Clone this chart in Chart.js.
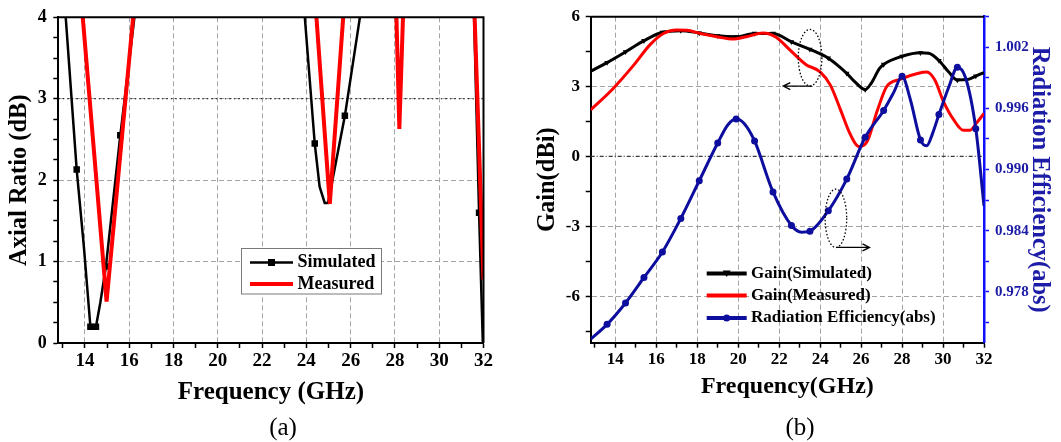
<!DOCTYPE html>
<html>
<head>
<meta charset="utf-8">
<title>Axial ratio and gain vs frequency</title>
<script src="https://cdn.jsdelivr.net/npm/chart.js@4.4.1/dist/chart.umd.min.js"></script>
<style>
  html, body { margin: 0; padding: 0; background: #fff; }
  #page { position: relative; width: 1061px; height: 442px; overflow: hidden; }
  #chartA { position: absolute; left: 0; top: 0; }
  #chartB { position: absolute; left: 530px; top: 0; }
  .cap { position: absolute; top: 413px; width: 80px; margin-left: -40px; text-align: center;
         font: 25px/28px "Liberation Serif", "Times New Roman", serif; color: #000; }
</style>
</head>
<body>
<div id="page">
  <canvas id="chartA" width="530" height="442"></canvas>
  <canvas id="chartB" width="531" height="442"></canvas>
  <div class="cap" style="left:283px">(a)</div>
  <div class="cap" style="left:800px">(b)</div>
</div>
<script>
const SERIF = '"Liberation Serif", "Times New Roman", serif';

// shared frequency axis (GHz)
const freqTicks = [13, 14, 15, 16, 17, 18, 19, 20, 21, 22, 23, 24, 25, 26, 27, 28, 29, 30, 31, 32];
const freqGrid = [14, 16, 18, 20, 22, 24, 26, 28, 30];

// (a) axial ratio in dB -- anything above 4 runs off the top of the frame
const arTicks = [0, 0.25, 0.5, 0.75, 1, 1.25, 1.5, 1.75, 2, 2.25, 2.5, 2.75, 3, 3.25, 3.5, 3.75, 4];
const arGrid = [1, 2, 3];
const arSimFreq = [12.95, 13.63, 13.95, 14.1, 14.25, 14.5, 14.7, 14.95, 15.6, 16.5, 17.5, 23.2, 23.7, 24.38, 24.6, 24.83, 24.98, 25.74, 26.7, 27.2, 31.2, 31.5, 31.8, 31.97];
const arSim =     [4.7,   2.13,  1.2,   0.7,  0.2,   0.2,  0.5,  0.94,  2.55, 4.6,  8,    8,    4.8,  2.45,  1.92, 1.72,  1.72,  2.79,  4.5,  8,    8,    4.8,  1.6,  0];
const arSimMarks = [13.63, 14.25, 14.5, 14.95, 15.6, 24.38, 25.74, 31.8];
const arMeasFreq = [13.75, 14.98, 16.35, 17, 24, 24.35, 25.06, 25.77, 26.3, 27.8, 28.05, 28.2, 28.4, 28.6, 31.3, 31.55, 32.0];
const arMeas =     [4.5,   0.51,  4.5,   8,  8,  4.4,   1.71,  4.4,   8,    8,    4.2,   2.63, 4.3,  8,    8,    4.4,   0.78];

// (b) gain in dBi (left) and radiation efficiency (right)
const gainTicks = [-7.5, -6, -4.5, -3, -1.5, 0, 1.5, 3, 4.5, 6];
const gainLabels = [-6, -3, 0, 3, 6];
const gainGrid = [-6, -3, 3];
const effTicks = [0.975, 0.978, 0.981, 0.984, 0.987, 0.990, 0.993, 0.996, 0.999, 1.002, 1.005];
const effLabels = [0.978, 0.984, 0.990, 0.996, 1.002];

const gainSimFreq = [12.8, 13.6, 14.5, 15.4, 16.3, 17.2, 18.1, 19.0, 19.9, 20.8, 21.7, 22.6, 23.5, 24.4, 25.3, 25.7, 26.2, 26.5, 26.9, 27.1, 28.0, 28.9, 29.3, 29.8, 30.3, 30.7, 31.2, 31.6, 32.0];
const gainSim =     [3.66, 4.03, 4.49, 4.97, 5.33, 5.40, 5.30, 5.18, 5.14, 5.28, 5.28, 4.92, 4.60, 4.22, 3.57, 3.2,  2.87, 3.15, 3.78, 3.95, 4.30, 4.45, 4.43, 4.12, 3.6,  3.28, 3.30, 3.45, 3.60];
const gainMeasFreq = [12.8, 13.9, 14.9, 15.7, 16.35, 17.0, 17.5, 18.15, 19.1, 19.7, 20.4, 21.2, 21.85, 22.55, 23.3, 24.0, 24.5, 25.0, 25.45, 25.9, 26.3, 26.8, 27.25, 27.9, 28.8, 29.2, 29.6, 30.0, 30.5, 31.0, 31.3, 31.65, 32.0];
const gainMeas =     [2.0,  2.92, 3.92, 4.8,  5.28,  5.43, 5.42, 5.28,  5.12, 5.04, 5.14, 5.30, 5.12,  4.55,  3.95, 3.63, 3.06, 1.99, 0.99,  0.42, 0.65, 1.99, 3.0,   3.31, 3.57, 3.62, 3.28, 2.4,  1.6,  1.12, 1.12, 1.45,  1.85];
const effFreq = [12.8, 13.6, 14.5, 15.4, 16.3, 17.2, 18.1, 19.0, 19.5, 19.9, 20.3, 20.8, 21.7, 22.6, 23.1, 23.5, 24.4, 25.3, 26.2, 27.1, 27.6, 28.0, 28.4, 28.9, 29.2, 29.5, 29.8, 30.3, 30.7, 31.1, 31.6, 32.0];
const eff =     [0.97335, 0.9748, 0.9769, 0.9794, 0.9819, 0.9852, 0.9889, 0.9926, 0.9944, 0.99496, 0.9945, 0.9928, 0.9878, 0.9845, 0.98385, 0.98395, 0.98595, 0.98906, 0.99316, 0.9958, 0.9976, 0.99915, 0.9969, 0.9929, 0.99233, 0.9936, 0.9954, 0.9982, 1.00005, 0.9990, 0.9940, 0.98644];
const bMarks = [13.6, 14.5, 15.4, 16.3, 17.2, 18.1, 19.0, 19.9, 20.8, 21.7, 22.6, 23.5, 24.4, 25.3, 26.2, 27.1, 28.0, 28.9, 29.8, 30.7, 31.6];

const BLUE = '#0d0d9e';
const AXIS_BLUE = '#1010ff';
const TEXT_BLUE = '#1c1ca6';
const GRID = '#a3a3a3';

const $ = (id) => document.getElementById(id);
const pts = (xs, ys) => xs.map((x, i) => ({ x, y: ys[i] }));
const setTicks = (vals) => (s) => { s.ticks = vals.map((v) => ({ value: v })); };
const gridAt = (vals) => (c) => (c.tick && vals.includes(c.tick.value) ? GRID : 'rgba(0,0,0,0)');
const mark = (list, r) => (c) => (c.raw && list.includes(c.raw.x) ? r : 0);

Chart.defaults.font.family = SERIF;
Chart.defaults.color = '#000';

function freqAxis(text, size, titleSize, height) {
  return {
    type: 'linear', min: 12.8, max: 32,
    afterBuildTicks: setTicks(freqTicks),
    afterFit: (s) => { s.height = height; },
    ticks: { autoSkip: false, maxRotation: 0, padding: 2, font: { size, weight: 'bold' },
             callback: (v) => (v % 2 === 0 ? v : '') },
    grid: { color: gridAt(freqGrid), lineWidth: 1, tickLength: 5, tickColor: '#000', tickWidth: 1.5 },
    border: { color: '#000', width: 2, dash: [5, 3] },
    title: { display: true, text, font: { size: titleSize, weight: 'bold' }, padding: 0 },
  };
}

function hline(chart, scale, value, color, dash) {
  const { ctx, chartArea } = chart;
  const py = chart.scales[scale].getPixelForValue(value);
  ctx.save();
  ctx.strokeStyle = color;
  ctx.lineWidth = 1.2;
  ctx.setLineDash(dash);
  ctx.beginPath();
  ctx.moveTo(chartArea.left, py);
  ctx.lineTo(chartArea.right, py);
  ctx.stroke();
  ctx.restore();
}

function marker(ctx, kind, x, y, color) {
  ctx.fillStyle = color;
  ctx.beginPath();
  if (kind === 'rect') ctx.rect(x - 3.5, y - 3.5, 7, 7);
  if (kind === 'down') { ctx.moveTo(x - 4, y - 3); ctx.lineTo(x + 4, y - 3); ctx.lineTo(x, y + 3.5); ctx.closePath(); }
  if (kind === 'dot') ctx.arc(x, y, 3.5, 0, Math.PI * 2);
  ctx.fill();
}

function legendRows(ctx, rows, x0, x1, tx, size) {
  ctx.font = `bold ${size}px ${SERIF}`;
  ctx.textBaseline = 'middle';
  ctx.textAlign = 'left';
  for (const r of rows) {
    ctx.strokeStyle = r.color;
    ctx.lineWidth = r.width;
    ctx.beginPath();
    ctx.moveTo(x0, r.y);
    ctx.lineTo(x1, r.y);
    ctx.stroke();
    if (r.marker) marker(ctx, r.marker, (x0 + x1) / 2, r.y, r.color);
    ctx.fillStyle = '#000';
    ctx.fillText(r.label, tx, r.y);
  }
}

// ---------- (a) axial ratio ----------
const extrasA = {
  id: 'extrasA',
  beforeDatasetsDraw(chart) {
    hline(chart, 'y', 3, '#000', [1.5, 3]);
  },
  afterDatasetsDraw(chart) {
    const { ctx, chartArea: a } = chart;
    ctx.save();
    ctx.strokeStyle = '#000';
    ctx.lineWidth = 2;
    ctx.beginPath();
    ctx.moveTo(a.left, a.top);
    ctx.lineTo(a.right, a.top);
    ctx.lineTo(a.right, a.bottom);
    ctx.stroke();
    // legend box
    ctx.fillStyle = '#fff';
    ctx.fillRect(241, 248.5, 141, 45.5);
    ctx.strokeStyle = '#7a7a7a';
    ctx.lineWidth = 1;
    ctx.strokeRect(241.5, 248.5, 140, 45.5);
    legendRows(ctx, [
      { label: 'Simulated', color: '#000', width: 2.5, marker: 'rect', y: 262.5 },
      { label: 'Measured', color: '#ff0000', width: 4, y: 284 },
    ], 250, 293, 297.5, 18);
    ctx.restore();
  },
};

new Chart($('chartA'), {
  type: 'line',
  data: {
    datasets: [
      { label: 'Measured', data: pts(arMeasFreq, arMeas), borderColor: '#ff0000', borderWidth: 4,
        pointRadius: 0, tension: 0, clip: 0, order: 0 },
      { label: 'Simulated', data: pts(arSimFreq, arSim), borderColor: '#000', borderWidth: 2.5,
        pointStyle: 'rect', pointRadius: mark(arSimMarks, 4.6), pointBackgroundColor: '#000',
        pointBorderColor: '#000', pointBorderWidth: 0, tension: 0, clip: 0, order: 1 },
    ],
  },
  options: {
    responsive: false, animation: false, events: [],
    layout: { padding: { left: 0, top: 17, right: 46.5, bottom: 34 } },
    plugins: { legend: { display: false }, tooltip: { enabled: false } },
    scales: {
      x: freqAxis('Frequency (GHz)', 19, 25, 65),
      y: {
        type: 'linear', min: 0, max: 4,
        afterBuildTicks: setTicks(arTicks),
        afterFit: (s) => { s.width = 58.3; },
        ticks: { autoSkip: false, padding: 6.5, font: { size: 18, weight: 'bold' },
                 callback: (v) => (Number.isInteger(v) ? v : '') },
        grid: { color: gridAt(arGrid), lineWidth: 1, tickLength: 5, tickColor: '#000', tickWidth: 1.5 },
        border: { color: '#000', width: 2, dash: [5, 3] },
        title: { display: true, text: 'Axial Ratio (dB)', font: { size: 24.5, weight: 'bold' },
                 padding: { top: 5.3, bottom: 0 } },
      },
    },
  },
  plugins: [extrasA],
});

// ---------- (b) gain and radiation efficiency ----------
function ellipse(ctx, cx, cy, rx, ry) {
  ctx.beginPath();
  ctx.ellipse(cx, cy, rx, ry, 0, 0, Math.PI * 2);
  ctx.stroke();
}

function arrow(ctx, x0, x1, y) {
  const dir = Math.sign(x1 - x0);
  ctx.beginPath();
  ctx.moveTo(x0, y);
  ctx.lineTo(x1, y);
  ctx.moveTo(x1 - dir * 7, y - 3.5);
  ctx.lineTo(x1, y);
  ctx.lineTo(x1 - dir * 7, y + 3.5);
  ctx.stroke();
}

const extrasB = {
  id: 'extrasB',
  beforeDatasetsDraw(chart) {
    hline(chart, 'y', 0, '#3a3a3a', [4, 2, 1, 2]);
  },
  afterDatasetsDraw(chart) {
    const { ctx, chartArea: a, scales: { x, y, y2 } } = chart;
    ctx.save();
    ctx.strokeStyle = '#000';
    ctx.lineWidth = 2;
    ctx.beginPath();
    ctx.moveTo(a.left, a.top);
    ctx.lineTo(a.right, a.top);
    ctx.stroke();

    // dotted ellipses with arrows pointing at the matching axis
    ctx.lineWidth = 1.3;
    ctx.setLineDash([1.5, 2]);
    ellipse(ctx, x.getPixelForValue(23.51), y.getPixelForValue(4.24), 11.8, 28.3);
    ellipse(ctx, x.getPixelForValue(24.77), y2.getPixelForValue(0.98521), 10.8, 29.2);
    ctx.setLineDash([]);
    arrow(ctx, x.getPixelForValue(23.6), x.getPixelForValue(22.2), y.getPixelForValue(3.02));
    arrow(ctx, x.getPixelForValue(24.81), x.getPixelForValue(26.41), y2.getPixelForValue(0.98235));

    legendRows(ctx, [
      { label: 'Gain(Simulated)', color: '#000', width: 4, marker: 'down', y: 273.5 },
      { label: 'Gain(Measured)', color: '#ff0000', width: 4, y: 295.5 },
      { label: 'Radiation Efficiency(abs)', color: BLUE, width: 4, marker: 'dot', y: 318 },
    ], 176.7, 216.7, 221, 17);
    ctx.restore();
  },
};

new Chart($('chartB'), {
  type: 'line',
  data: {
    datasets: [
      { label: 'Radiation Efficiency(abs)', yAxisID: 'y2', data: pts(effFreq, eff), borderColor: BLUE,
        borderWidth: 3, cubicInterpolationMode: 'monotone', pointStyle: 'circle',
        pointRadius: mark(bMarks, 3.5), pointBackgroundColor: BLUE, pointBorderWidth: 0, clip: 0, order: 0 },
      { label: 'Gain(Measured)', yAxisID: 'y', data: pts(gainMeasFreq, gainMeas), borderColor: '#ff0000',
        borderWidth: 3, cubicInterpolationMode: 'monotone', pointRadius: 0, clip: 0, order: 1 },
      { label: 'Gain(Simulated)', yAxisID: 'y', data: pts(gainSimFreq, gainSim), borderColor: '#000',
        borderWidth: 3, cubicInterpolationMode: 'monotone', pointStyle: 'triangle', pointRotation: 180,
        pointRadius: mark(bMarks, 3.2), pointBackgroundColor: '#000', pointBorderWidth: 0, clip: 0, order: 2 },
    ],
  },
  options: {
    responsive: false, animation: false, events: [],
    layout: { padding: { left: 0, top: 16.7, right: 0, bottom: 40.6 } },
    plugins: { legend: { display: false }, tooltip: { enabled: false } },
    scales: {
      x: freqAxis('Frequency(GHz)', 17, 24, 58.7),
      y: {
        type: 'linear', position: 'left', min: -8, max: 6,
        afterBuildTicks: setTicks(gainTicks),
        afterFit: (s) => { s.width = 60.7; },
        ticks: { autoSkip: false, padding: 5.7, font: { size: 17, weight: 'bold' },
                 callback: (v) => (gainLabels.includes(v) ? v : '') },
        grid: { color: gridAt(gainGrid), lineWidth: 1, tickLength: 5, tickColor: '#000', tickWidth: 1.5 },
        border: { color: '#000', width: 2, dash: [5, 3] },
        title: { display: true, text: 'Gain(dBi)', font: { size: 24.5, weight: 'bold' },
                 padding: { top: 2.8, bottom: 0 } },
      },
      y2: {
        type: 'linear', position: 'right', min: 0.973, max: 1.005,
        afterBuildTicks: setTicks(effTicks),
        afterFit: (s) => { s.width = 77; },
        ticks: { autoSkip: false, padding: 6, color: TEXT_BLUE, font: { size: 15, weight: 'bold' },
                 callback: (v) => (effLabels.includes(v) ? v.toFixed(3) : '') },
        grid: { drawOnChartArea: false, tickLength: 5, tickColor: AXIS_BLUE, tickWidth: 1.5 },
        border: { color: AXIS_BLUE, width: 2.5 },
        title: { display: true, text: 'Radiation Efficiency(abs)', color: TEXT_BLUE,
                 font: { size: 24.5, weight: 'bold' }, padding: { top: 7.3, bottom: 0 } },
      },
    },
  },
  plugins: [extrasB],
});
</script>
</body>
</html>
